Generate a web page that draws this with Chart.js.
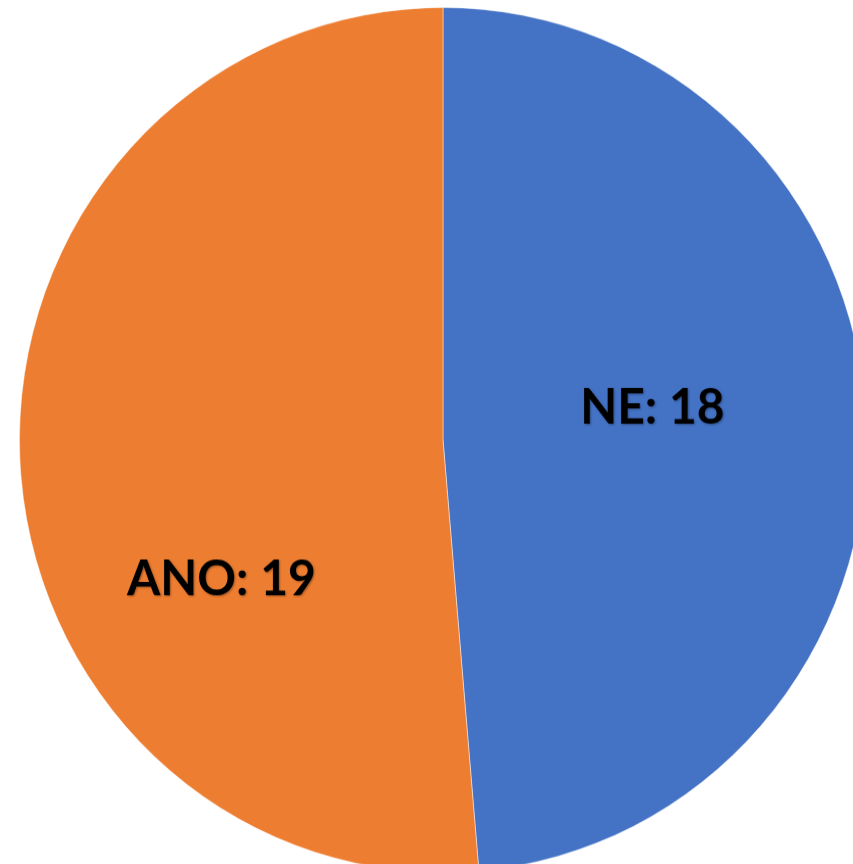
<!DOCTYPE html>
<html>
<head>
<meta charset="utf-8">
<script src="https://cdn.jsdelivr.net/npm/chart.js@4"></script>
<style>
  html, body { margin: 0; padding: 0; background: #fff; overflow: hidden; }
  /* the source pie is a touch taller than wide, so stretch it slightly */
  #wrap { position: absolute; left: 19px; top: 7px; width: 848px; height: 848px;
          transform: scaleY(1.0212); transform-origin: 0 0; }
</style>
</head>
<body>
<div id="wrap"><canvas id="pieChart"></canvas></div>
<script>
// --- Data ---
const categories = ["NE", "ANO"];
const counts = [18, 19];
const sliceColors = ["#4472C4", "#ED7D31"];

// label placement: angle (deg, clockwise from top) and distance as fraction of radius
const labelAngles = [81.5, 238.3];
const labelDist = [0.50, 0.615];

// --- Label plugin ---
const pieLabels = {
  id: 'pieLabels',
  afterDatasetsDraw(chart) {
    const ctx = chart.ctx;
    const arcs = chart.getDatasetMeta(0).data;
    ctx.save();
    ctx.font = 'bold 48px Lato';
    ctx.fillStyle = '#000';
    ctx.textAlign = 'center';
    ctx.textBaseline = 'middle';
    ctx.shadowColor = 'rgba(0,0,0,0.35)';
    ctx.shadowOffsetX = 1;
    ctx.shadowOffsetY = 1;
    ctx.shadowBlur = 2;
    arcs.forEach((arc, i) => {
      const a = labelAngles[i] * Math.PI / 180;
      const d = arc.outerRadius * labelDist[i];
      const x = arc.x + d * Math.sin(a);
      const y = arc.y - d * Math.cos(a);
      ctx.fillText(categories[i] + ': ' + counts[i], x, y);
    });
    ctx.restore();
  }
};

// --- Chart ---
const ctx = document.getElementById('pieChart').getContext('2d');
new Chart(ctx, {
  type: 'pie',
  data: {
    labels: categories,
    datasets: [{
      data: counts,
      backgroundColor: sliceColors,
      borderColor: 'rgba(255,255,255,0.45)',
      borderWidth: 1
    }]
  },
  options: {
    responsive: true,
    maintainAspectRatio: false,
    animation: false,
    layout: { padding: 0 },
    plugins: {
      legend: { display: false },
      tooltip: { enabled: false }
    }
  },
  plugins: [pieLabels]
});
</script>
</body>
</html>
